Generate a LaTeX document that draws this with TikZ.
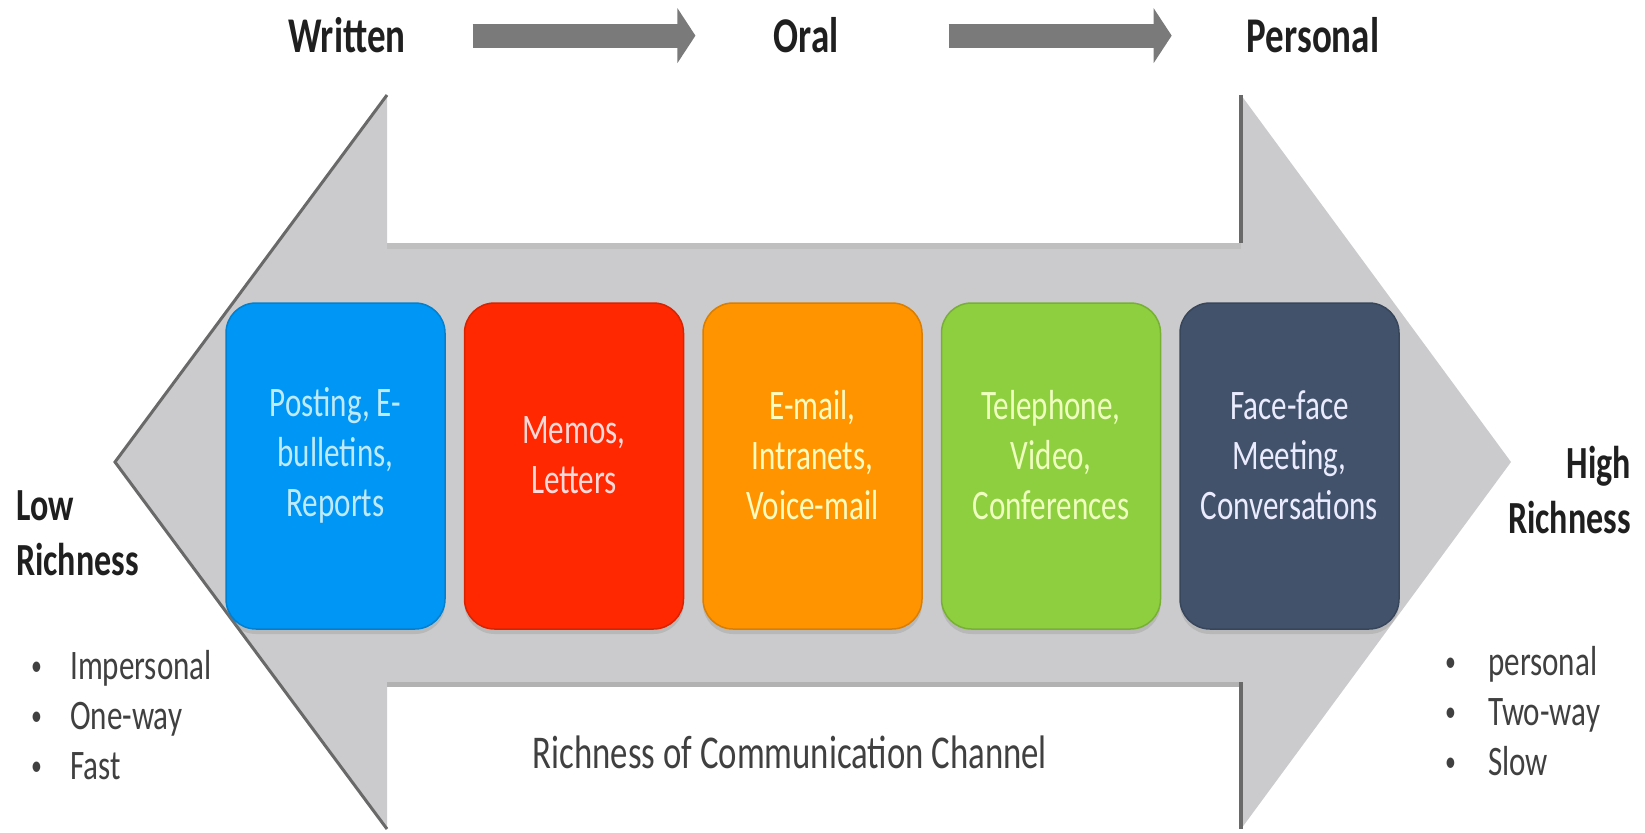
\documentclass[tikz,border=0pt]{standalone}
\usepackage{fontspec}
\setmainfont{Carlito}[FakeStretch=0.74]
\usetikzlibrary{arrows.meta,shadows}
\definecolor{shaftgray}{RGB}{203,203,205}
\definecolor{edgegray}{RGB}{105,105,105}
\definecolor{flowgray}{RGB}{122,122,122}
\definecolor{postblue}{RGB}{0,150,245}
\definecolor{memored}{RGB}{255,40,0}
\definecolor{mailorange}{RGB}{255,148,0}
\definecolor{phonegreen}{RGB}{141,207,63}
\definecolor{facenavy}{RGB}{66,82,107}
\newcommand{\boxfont}{\fontsize{42}{50}\selectfont}
\newcommand{\listfont}{\fontsize{42}{50}\selectfont}
\newcommand{\dotitem}[1]{\makebox[#1][l]{\raisebox{0.22ex}{\scalebox{0.7}{\textbullet}}}}

\begin{document}
\begin{tikzpicture}[x=1pt,y=-1pt,
  toplabel/.style={font=\fontsize{50}{60}\selectfont\bfseries,text=black!88,inner sep=0pt,anchor=base},
  flowarrow/.style={draw=flowgray,line width=24pt,-{Triangle[length=18pt,width=54pt]}},
  chbox/.style={rectangle,rounded corners=30pt,minimum width=219pt,minimum height=326pt,inner sep=0pt,
    drop shadow={opacity=0.25,shadow xshift=0pt,shadow yshift=-5pt}},
  chtext/.style={font=\boxfont,align=center,inner sep=0pt},
  sidelabel/.style={font=\fontsize{46}{55}\selectfont\bfseries,text=black!88,inner sep=0pt},
  sidelist/.style={font=\listfont,text=black!75,align=left,inner sep=0pt,anchor=west}]
  \useasboundingbox (0,0) rectangle (1645,832);

  %big double arrow
  \fill[shaftgray] (115,462) -- (387,95) -- (387,243) -- (1241,243) -- (1241,95) -- (1511,462)
    -- (1241,829) -- (1241,682) -- (387,682) -- (387,829) -- cycle;
  \draw[black!25,line width=6pt] (387,246) -- (1241,246);
  \draw[black!30,line width=5pt] (387,684) -- (1241,684);
  \draw[edgegray,line width=3pt] (387,95) -- (115,462) -- (387,829);
  \draw[edgegray,line width=4pt] (1241,95) -- (1241,243);
  \draw[edgegray,line width=4pt] (1241,682) -- (1241,829);

  %written -> oral -> personal
  \node[toplabel] (written) at (347,53) {Written};
  \node[toplabel] (oral) at (806,53) {Oral};
  \node[toplabel] (personal) at (1313,53) {Personal};
  \draw[flowarrow,shorten <=67pt,shorten >=78pt] (written.east) -- (oral.west);
  \draw[flowarrow,shorten <=110pt,shorten >=75pt] (oral.east) -- (personal.west);

  %channels
  \node[chbox,fill=postblue,draw=postblue!85!black,line width=1.5pt] (posting) at (335.5,466) {};
  \node[chbox,fill=memored,draw=memored!85!black,line width=1.5pt] (memos) at (574,466) {};
  \node[chbox,fill=mailorange,draw=mailorange!85!black,line width=1.5pt] (email) at (812.5,466) {};
  \node[chbox,fill=phonegreen,draw=phonegreen!85!black,line width=1.5pt] (phone) at (1051,466) {};
  \node[chbox,fill=facenavy,draw=facenavy!85!black,line width=1.5pt] (face) at (1289.5,466) {};
  \node[chtext,text=cyan!25] at ([yshift=11pt]posting.center) {Posting, E-\\bulletins,\\Reports};
  \node[chtext,text=red!15] at ([yshift=11pt]memos.center) {Memos,\\Letters};
  \node[chtext,text=yellow!25] at ([yshift=11pt]email.center) {E-mail,\\Intranets,\\Voice-mail};
  \node[chtext,text=lime!25] at ([yshift=11pt]phone.center) {Telephone,\\Video,\\Conferences};
  \node[chtext,text=blue!8] at ([yshift=11pt]face.center) {Face-face\\Meeting,\\Conversations};

  %low and high ends
  \node[sidelabel,align=left,anchor=west] (low) at (16,533) {Low\\Richness};
  \node[sidelabel,align=right,anchor=east] (high) at (1631,490) {High\\Richness};
  \node[sidelist] (lowlist) at (31,715) {\dotitem{39pt}Impersonal\\
    \dotitem{39pt}One-way\\\dotitem{39pt}Fast};
  \node[sidelist] (highlist) at (1445,711) {\dotitem{43pt}personal\\
    \dotitem{43pt}Two-way\\\dotitem{43pt}Slow};

  \node[font=\fontsize{47}{55}\selectfont,text=black!75,inner sep=0pt] (channel) at (790,752)
    {Richness of Communication Channel};
\end{tikzpicture}
\end{document}
